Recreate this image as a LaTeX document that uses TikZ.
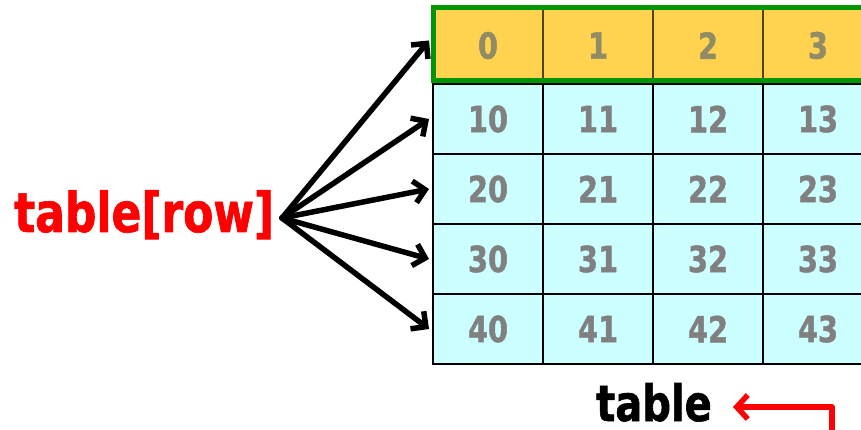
\documentclass[tikz,border=0pt]{standalone}
\usepackage{fontspec}
\setmainfont[FakeStretch=0.8, BoldFeatures={FakeBold=1.2}]{DejaVu Sans}
\usetikzlibrary{arrows.meta}

\definecolor{cellcyan}{RGB}{204,255,255}
\definecolor{headyellow}{RGB}{255,211,80}
\definecolor{headgreen}{RGB}{0,150,0}
\definecolor{digitgray}{RGB}{128,128,128}
\definecolor{headdigit}{RGB}{145,140,102}
\definecolor{headline}{RGB}{80,68,24}
\definecolor{labelred}{RGB}{255,0,0}

\tikzset{
  cell/.style={draw=black, line width=2pt, fill=cellcyan, minimum width=110pt,
    minimum height=70pt, inner sep=0pt, anchor=north west,
    text=digitgray, font=\bfseries\fontsize{36}{36}\selectfont},
  headcell/.style={cell, draw=headline, fill=headyellow, minimum height=73pt,
    text=headdigit},
  fanarrow/.style={line width=5.5pt, line cap=round, line join=round,
    -{Straight Barb[length=11pt, width=22pt, line width=5.5pt]}},
  redarrow/.style={draw=labelred, line width=5.5pt, line join=round,
    -{Straight Barb[length=11pt, width=24pt, line width=5.5pt]}},
  biglabel/.style={inner sep=0pt, anchor=base west,
    font=\bfseries\fontsize{55}{55}\selectfont}
}

\begin{document}
\begin{tikzpicture}[x=1pt, y=-1pt]
  \useasboundingbox (0,0) rectangle (861,430);

  % header row 0 .. 3
  \foreach \c in {0,...,3}
    \node[headcell] (c0\c) at ({432+110*\c}, 8) {\c};

  % data rows 1 .. 4
  \foreach \r in {1,...,4}
    \foreach \c in {0,...,3}
      \node[cell] (c\r\c) at ({432+110*\c}, {83+70*(\r-1)}) {\r\c};

  % green frame around the header row
  \draw[headgreen, line width=5pt] (433,8) rectangle (890,81);

  % row selector label and fan of arrows
  \node[biglabel, text=labelred] (rowlbl) at (14,232) {table[row]};
  \coordinate (fan) at (282,218);
  \draw[fanarrow] (fan) -- ([xshift=-3pt, yshift=5pt]c00.west);
  \foreach \r in {1,...,4}
    \draw[fanarrow] (fan) -- ([xshift=-3pt]c\r0.west);

  % table name with bent arrow
  \node[biglabel, font=\bfseries\fontsize{50}{50}\selectfont] (tbl) at (596,421) {table};
  \coordinate (src) at (832,436);
  \draw[redarrow] (src) |- ([xshift=21pt, yshift=14pt]tbl.base east);
\end{tikzpicture}
\end{document}
